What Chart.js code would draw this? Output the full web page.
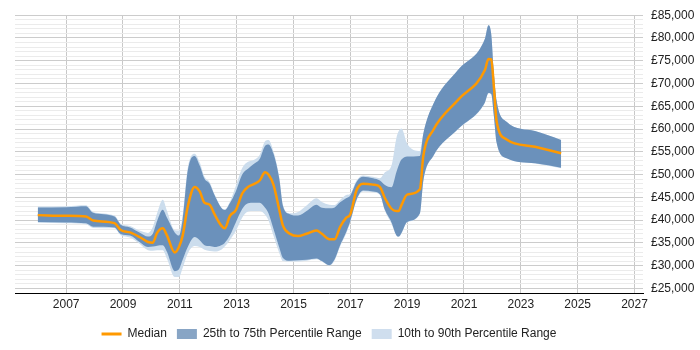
<!DOCTYPE html>
<html>
<head>
<meta charset="utf-8">
<script src="https://cdn.jsdelivr.net/npm/chart.js@4"></script>
<style>
  body { margin: 0; background: #fff; }
  #wrap { width: 700px; height: 350px; }
</style>
</head>
<body>
<div id="wrap"><canvas id="salaryChart"></canvas></div>
<script>
const years = [2006.00, 2007.00, 2007.70, 2007.95, 2008.70, 2008.92, 2009.25, 2009.58, 2009.88, 2010.05,
  2010.20, 2010.40, 2010.55, 2010.82, 2010.97, 2011.10, 2011.28, 2011.52, 2011.70, 2011.87,
  2012.05, 2012.22, 2012.46, 2012.58, 2012.76, 2012.97, 2013.20, 2013.40, 2013.60, 2013.81,
  2014.00, 2014.12, 2014.30, 2014.50, 2014.63, 2014.87, 2015.16, 2015.46, 2015.81, 2016.00,
  2016.26, 2016.45, 2016.64, 2016.85, 2017.00, 2017.22, 2017.45, 2017.80, 2018.04, 2018.22,
  2018.45, 2018.62, 2018.70, 2018.80, 2019.00, 2019.45, 2019.57, 2019.92, 2020.80, 2021.74,
  2021.86, 2021.96, 2022.05, 2022.15, 2022.50, 2023.50, 2024.42];

const p10 = [39400, 39300, 39100, 38300, 38200, 36700, 36200, 34800, 33400, 33300,
  33400, 33400, 31500, 27500, 27500, 29500, 32700, 34300, 34100, 33500,
  33200, 33100, 33500, 34200, 35600, 37600, 40600, 41900, 42000, 42000,
  41200, 40000, 36500, 32800, 31000, 30900, 30900, 31100, 31400, 30900,
  30000, 31200, 34200, 37000, 39500, 44300, 46300, 46100, 45500, 42000,
  39200, 36600, 36300, 37100, 39500, 41400, 48500, 54100, 60000, 65800,
  67800, 67600, 63000, 56900, 53600, 52450, 51400];

const p25 = [39600, 39500, 39300, 38550, 38400, 36950, 36600, 35200, 34100, 34200,
  34400, 34500, 33000, 28800, 29200, 31300, 34100, 36300, 35600, 34500,
  34300, 34100, 34500, 35000, 36600, 39500, 42500, 43700, 43800, 43800,
  42700, 41500, 38000, 34000, 31700, 31100, 31200, 31300, 31600, 31000,
  30100, 31400, 34500, 37300, 39800, 44500, 46500, 46300, 45700, 42200,
  39500, 36700, 36400, 37200, 39600, 41500, 48700, 54100, 60050, 65900,
  67900, 67700, 63000, 57000, 53600, 52500, 51500];

const median = [41100, 40950, 40800, 39900, 39350, 37850, 37300, 36300, 35200, 35050,
  37200, 38200, 36600, 32900, 34100, 36600, 43000, 47300, 46300, 43800,
  43400, 41300, 38800, 38200, 40900, 42200, 45900, 47300, 47900, 48700,
  50500, 50000, 47700, 42300, 38800, 37000, 36500, 37000, 37700, 37000,
  35800, 35800, 38500, 40500, 41300, 46600, 48000, 47800, 47300, 44800,
  42500, 42000, 42000, 43300, 45600, 46800, 54100, 59800, 66450, 73000,
  75400, 75300, 69500, 61600, 57700, 56100, 54700];

const p75 = [42800, 42850, 43050, 41600, 40800, 39000, 38400, 37300, 36400, 37000,
  39800, 42300, 40500, 37300, 36600, 40200, 50900, 54100, 52000, 49100,
  48000, 45500, 42700, 42200, 43700, 46300, 50100, 51300, 52300, 53400,
  56300, 56600, 54500, 49100, 43100, 41300, 41000, 42000, 43400, 42700,
  42600, 42800, 43900, 44800, 45400, 48400, 49500, 49200, 48700, 47700,
  47200, 50500, 52000, 53300, 54000, 54100, 59000, 65500, 73050, 79900,
  82800, 80800, 72300, 66200, 61600, 59550, 57600];

const p90 = [43000, 43050, 43250, 41800, 41000, 39200, 38700, 37700, 37200, 38500,
  41500, 44500, 42000, 37800, 37700, 41000, 51500, 54600, 52700, 49500,
  48300, 45700, 42800, 42400, 44000, 47500, 51500, 52800, 53200, 54300,
  57300, 57600, 55000, 49400, 43300, 41500, 41800, 43200, 44800, 44000,
  43400, 43300, 44400, 45500, 45800, 48700, 49800, 49500, 49200, 50500,
  52000, 58000, 59500, 60100, 56800, 55200, 59000, 65500, 73050, 79900,
  82800, 80800, 72300, 66200, 61600, 59550, 57600];

const xTickYears = [2007, 2009, 2011, 2013, 2015, 2017, 2019, 2021, 2023, 2025, 2027];
const yLabelValues = [25000, 30000, 35000, 40000, 45000, 50000, 55000, 60000, 65000, 70000, 75000, 80000, 85000];
const seriesNames = ['Median', '25th to 75th Percentile Range', '10th to 90th Percentile Range'];

const toPoints = values => values.map((v, i) => ({ x: years[i], y: v }));

// minor gridlines every £1,000 between the labelled ones
const yGridValues = [];
for (let v = yLabelValues[0]; v <= yLabelValues[yLabelValues.length - 1]; v += 1000) yGridValues.push(v);

const FONT = "Arial, 'Liberation Sans', sans-serif";
const legendColours = ['#ff9900', '#88a5c5', '#cfdeee'];

new Chart(document.getElementById('salaryChart'), {
    type: 'line',
    data: {
        datasets: [
            {
                label: seriesNames[0], data: toPoints(median),
                borderColor: '#ff9900', borderWidth: 2.5, fill: false, pointStyle: 'line'
            },
            {
                label: seriesNames[1], data: toPoints(p75),
                borderWidth: 0, backgroundColor: '#6b91bb', fill: '+1', pointStyle: 'rect'
            },
            { label: '', data: toPoints(p25), borderWidth: 0, fill: false },
            {
                label: seriesNames[2], data: toPoints(p90),
                borderWidth: 0, backgroundColor: '#ccdded', fill: '+1', pointStyle: 'rect'
            },
            { label: '', data: toPoints(p10), borderWidth: 0, fill: false }
        ]
    },
    options: {
        responsive: true,
        maintainAspectRatio: false,
        animation: false,
        layout: { padding: { top: 6, left: 15, right: 0, bottom: 0 } },
        elements: {
            point: { radius: 0, hoverRadius: 0 },
            line: { cubicInterpolationMode: 'monotone' }
        },
        scales: {
            x: {
                type: 'linear', min: 2005.2, max: 2027.3,
                afterBuildTicks: axis => { axis.ticks = xTickYears.map(v => ({ value: v })); },
                afterFit: axis => { axis.height = 25; },
                border: { color: '#000', width: 1 },
                grid: { color: '#c8c8c8', drawTicks: false },
                ticks: {
                    autoSkip: false, maxRotation: 0, padding: 4, color: '#222',
                    font: { family: FONT, size: 12 },
                    callback: v => String(v)
                }
            },
            y: {
                position: 'right', min: 24000, max: 85000,
                afterBuildTicks: axis => { axis.ticks = yGridValues.map(v => ({ value: v })); },
                afterFit: axis => { axis.width = 57; },
                border: { display: false },
                grid: {
                    drawTicks: false,
                    color: ctx => (ctx.tick && ctx.tick.value % 5000 === 0) ? '#cccccc' : '#ebebeb'
                },
                ticks: {
                    autoSkip: false, padding: 8, color: '#222',
                    font: { family: FONT, size: 12 },
                    callback: v => v % 5000 === 0 ? '£' + v.toLocaleString('en-GB') : ''
                }
            }
        },
        plugins: {
            tooltip: { enabled: false },
            legend: {
                position: 'bottom',
                fullSize: false,
                labels: {
                    usePointStyle: true, pointStyleWidth: 20, boxHeight: 10, padding: 10,
                    color: '#222', font: { family: FONT, size: 12 },
                    generateLabels: chart => Chart.defaults.plugins.legend.labels.generateLabels(chart)
                        .filter(item => item.text)
                        .map(item => {
                            const idx = seriesNames.indexOf(item.text);
                            item.fillStyle = legendColours[idx];
                            item.strokeStyle = legendColours[idx];
                            item.lineWidth = idx === 0 ? 3 : 0;
                            return item;
                        })
                }
            }
        }
    }
});
</script>
</body>
</html>
